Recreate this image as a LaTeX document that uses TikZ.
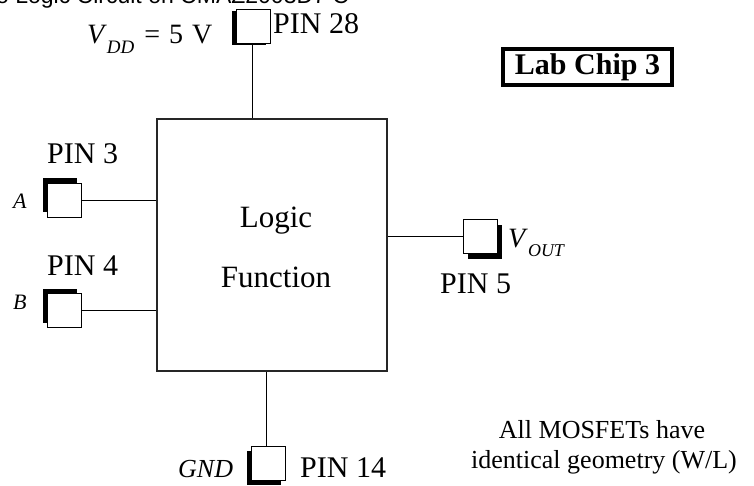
\documentclass[tikz,border=0pt]{standalone}
\usepackage{fontspec}
\setmainfont{Liberation Serif}
\newfontfamily\arialfont{Liberation Sans}
\usetikzlibrary{shadows}
\newcommand{\fsz}[1]{\fontsize{#1}{#1}\selectfont}
\begin{document}
\begin{tikzpicture}[x=1pt,y=-1pt,
  pad/.style={draw=black, line width=1pt, fill=white, minimum size=34pt, inner sep=0pt},
  shUL/.style={drop shadow={shadow xshift=-5pt, shadow yshift=5pt, opacity=1, fill=black}},
  shDL/.style={drop shadow={shadow xshift=-5pt, shadow yshift=-4pt, opacity=1, fill=black}},
  shL/.style={drop shadow={shadow xshift=-5pt, shadow yshift=-1.5pt, opacity=1, fill=black}},
  shDR/.style={drop shadow={shadow xshift=5pt, shadow yshift=-5pt, opacity=1, fill=black}},
  wire/.style={draw=black, line width=1pt},
  lbl/.style={inner sep=0pt, anchor=base west, font=\fsz{30}},
  ital/.style={inner sep=0pt, anchor=base west, font=\fsz{24}\itshape}]
\clip (0,0) rectangle (754,485);
\fill[white] (0,0) rectangle (754,485);
% clipped title
\node[inner sep=0pt, anchor=base west, font=\arialfont\fsz{23}] (title) at (-4,3) {o Logic Circuit on CMAZ2003D7 C};
% main box
\node[draw=black!85, line width=1.5pt, minimum width=230pt, minimum height=252pt, inner sep=0pt] (box) at (272,245) {};
\node[inner sep=0pt, anchor=base, font=\fsz{31}] (logic) at (276,227) {Logic};
\node[inner sep=0pt, anchor=base, font=\fsz{31}] (func) at (276,287) {Function};
% pads
\node[pad, shL] (p28) at (253.5,26.5) {};
\node[pad, shUL] (p3) at (64.5,200) {};
\node[pad, shUL] (p4) at (64.5,310.5) {};
\node[pad, shDR] (p5) at (480,236.5) {};
\node[pad, shDL] (p14) at (268.5,463.5) {};
% wires
\draw[wire] (p28.south -| 252,0) -- (252,0 |- box.north);
\draw[wire] (p3.east) -- (p3.east -| box.west);
\draw[wire] (p4.east) -- (p4.east -| box.west);
\draw[wire] (p5.west) -- (p5.west -| box.east);
\draw[wire] (p14.north -| 266.5,0) -- (266.5,0 |- box.south);
% labels
\node[lbl] (l28) at (273,33) {PIN 28};
\node[lbl] (l3) at (47,163) {PIN 3};
\node[lbl] (l4) at (47,275) {PIN 4};
\node[lbl] (l5) at (440,293) {PIN 5};
\node[lbl] (l14) at (300,477) {PIN 14};
\node[inner sep=0pt, anchor=base west, font=\fsz{28}] (vdd) at (87,43)
  {\textit{V}\raisebox{-10pt}{\fsz{19}\itshape DD}\hspace{10pt}=\hspace{9pt}5\hspace{9pt}V};
\node[inner sep=0pt, anchor=base west, font=\fsz{28}] (vout) at (508,247)
  {\textit{V}\raisebox{-9pt}{\fsz{18}\itshape OUT}};
\node[ital, font=\fsz{22}\itshape] (la) at (13,208) {A};
\node[ital, font=\fsz{22}\itshape] (lb) at (13,309) {B};
\node[ital, font=\fsz{26}\itshape] (gnd) at (178,477) {GND};
% lab chip
\node[draw=black, line width=4pt, minimum width=169pt, minimum height=36pt, inner sep=0pt, font=\fsz{30}\bfseries] (chip) at (587.5,67) {Lab Chip 3};
% note
\node[inner sep=0pt, anchor=base, font=\fsz{26}] (note1) at (602,438) {All MOSFETs have};
\node[inner sep=0pt, anchor=base, font=\fsz{26}] (note2) at (604,468) {identical geometry (W/L)};
\end{tikzpicture}
\end{document}
